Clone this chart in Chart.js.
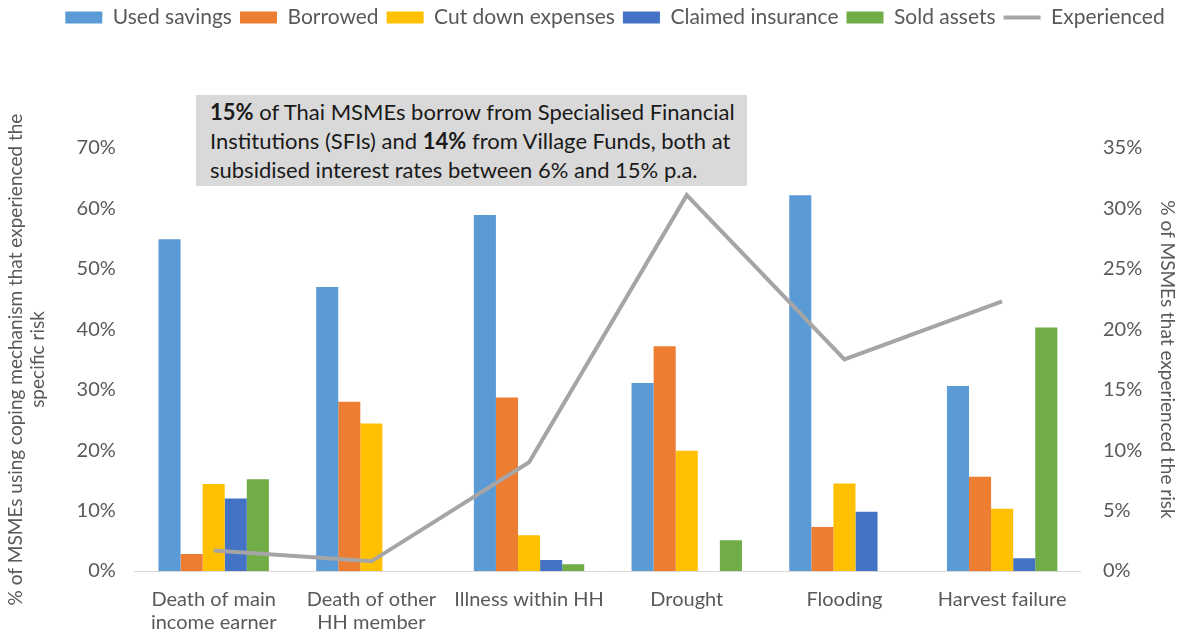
<!DOCTYPE html>
<html>
<head>
<meta charset="utf-8">
<script src="https://cdn.jsdelivr.net/npm/chart.js@4/dist/chart.umd.min.js"></script>
<style>
  html,body{margin:0;padding:0;background:#fff;}
  #wrap{position:relative;width:1180px;height:633px;}
  #note{position:absolute;left:196px;top:95px;width:551px;height:91px;box-sizing:border-box;
    background:#d9d9d9;padding:2px 14px;font-family:Lato,"Liberation Sans",sans-serif;
    font-size:22px;line-height:29px;color:#1a1a1a;white-space:nowrap;}
</style>
</head>
<body>
<div id="wrap">
  <canvas id="chart" width="1180" height="633"></canvas>
  <div id="note"><b>15%</b> of Thai MSMEs borrow from Specialised Financial<br>Institutions (SFIs) and <b>14%</b> from Village Funds, both at<br>subsidised interest rates between 6% and 15% p.a.</div>
</div>
<script>
const categories=[["Death of main","income earner"],["Death of other","HH member"],"Illness within HH","Drought","Flooding","Harvest failure"];
const usedSavings=[54.9,47.0,58.9,31.1,62.2,30.6];
const borrowed=[2.8,28.0,28.7,37.2,7.3,15.6];
const cutDown=[14.4,24.4,5.9,19.9,14.5,10.3];
const claimedInsurance=[12.0,0,1.8,0,9.8,2.1];
const soldAssets=[15.2,0,1.1,5.1,0,40.3];
const experienced=[1.7,0.8,9.0,31.1,17.5,22.3];

const grey="#595959";
const fam="Lato, 'Liberation Sans', sans-serif";

function bar(label,data,color){
  return {type:"bar",label:label,data:data,backgroundColor:color,yAxisID:"y",order:1,pointStyle:"rect",
    barPercentage:1,categoryPercentage:0.7};
}

// push the plot area down below the legend, and nudge the legend a bit right
const legendGap={id:"legendGap",
  beforeInit(chart){
    const fit=chart.legend.fit;
    chart.legend.fit=function(){fit.bind(chart.legend)();this.height+=110;};
  },
  afterLayout(chart){
    chart.legend.left+=24;
    chart.legend.right+=24;
  }
};

new Chart(document.getElementById("chart").getContext("2d"),{
  data:{
    labels:categories,
    datasets:[
      bar("Used savings",usedSavings,"#5B9BD5"),
      bar("Borrowed",borrowed,"#ED7D31"),
      bar("Cut down expenses",cutDown,"#FFC000"),
      bar("Claimed insurance",claimedInsurance,"#4472C4"),
      bar("Sold assets",soldAssets,"#70AD47"),
      {type:"line",label:"Experienced",data:experienced,borderColor:"#A5A5A5",backgroundColor:"#A5A5A5",
        borderWidth:4,pointRadius:0,pointStyle:"line",yAxisID:"y1",order:0,tension:0}
    ]
  },
  options:{
    responsive:false,
    animation:false,
    layout:{padding:{top:-1,left:3,right:1,bottom:-10}},
    plugins:{
      legend:{
        position:"top",
        labels:{usePointStyle:true,pointStyleWidth:37,boxHeight:12,padding:8,color:grey,font:{family:fam,size:21},
          sort:(a,b)=>a.datasetIndex-b.datasetIndex}
      },
      tooltip:{enabled:false}
    },
    scales:{
      x:{
        grid:{display:false},
        border:{display:true,color:"#d9d9d9",width:1},
        ticks:{color:grey,font:{family:fam,size:20,lineHeight:1.15},padding:9,maxRotation:0,autoSkip:false}
      },
      y:{
        position:"left",min:0,max:70,
        grid:{display:false},
        border:{display:false},
        ticks:{stepSize:10,color:grey,font:{family:fam,size:20},padding:11,callback:v=>v+"%"},
        title:{display:true,text:["% of MSMEs using coping mechanism that experienced the","specific risk"],
          color:grey,font:{family:fam,size:19},padding:{top:1,bottom:16}}
      },
      y1:{
        position:"right",min:0,max:35,
        grid:{display:false},
        border:{display:false},
        ticks:{stepSize:5,color:grey,font:{family:fam,size:20},padding:14,callback:v=>v+"%"},
        title:{display:true,text:"% of MSMEs that experienced the risk",color:grey,font:{family:fam,size:19},padding:{top:0,bottom:0}}
      }
    }
  },
  plugins:[legendGap]
});
</script>
</body>
</html>
